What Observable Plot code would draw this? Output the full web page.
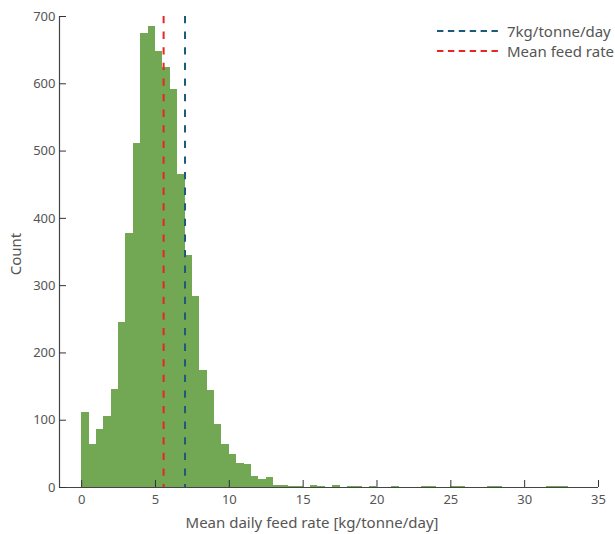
<!DOCTYPE html>
<html><head><meta charset="utf-8">
<script src="https://cdn.jsdelivr.net/npm/d3@7"></script>
<script src="https://cdn.jsdelivr.net/npm/@observablehq/plot@0.6"></script>
<style>
body{margin:0;background:#fff;}
#wrap{position:relative;width:615px;height:534px;font-family:"Noto Sans",sans-serif;color:#555;}
#legend{position:absolute;left:437px;top:21px;font-size:15px;line-height:20px;}
#legend .row{display:flex;align-items:center;height:20px;}
#legend svg{margin-right:9px;}
</style></head><body><div id="wrap"><div id="legend"></div></div>
<script>
// Histogram bins: width 0.5 kg/tonne/day, starting at 0
const binWidth = 0.5;
const binCounts = [
  111, 64, 86, 105, 146, 245, 377, 511, 675, 685,
  648, 624, 591, 465, 345, 284, 174, 144, 94, 64,
  49, 36, 34, 16, 12, 15, 3, 3, 1, 1,
  0, 3, 1, 0, 3, 0, 1, 1, 0, 1,
  0, 0, 1, 0, 0, 0, 1, 1, 0, 0,
  1, 1, 0, 0, 0, 1, 2, 0, 0, 0,
  0, 0, 0, 1, 2, 1
];
const threshold = 7;          // 7kg/tonne/day
const meanFeedRate = 5.55;    // Mean feed rate
const xTicks = [0, 5, 10, 15, 20, 25, 30, 35];
const yTicks = [0, 100, 200, 300, 400, 500, 600, 700];
const xDomain = [-1.5, 35];
const yDomain = [0, 700];
const legendLabels = ["7kg/tonne/day", "Mean feed rate"];
const legendColors = ["#1b5a7a", "#e8251f"];
const xLabel = "Mean daily feed rate [kg/tonne/day]";
const yLabel = "Count";

const bins = binCounts.map((c, i) => ({x1: i * binWidth, x2: (i + 1) * binWidth, count: c}));

const chart = Plot.plot({
  width: 615, height: 534,
  marginLeft: 59, marginRight: 17, marginTop: 16, marginBottom: 47,
  style: {fontFamily: '"Noto Sans", sans-serif', fontSize: "13px", color: "#555", background: "#fff"},
  x: {domain: xDomain},
  y: {domain: yDomain},
  marks: [
    Plot.rectY(bins, {x1: "x1", x2: "x2", y: "count", fill: "#72a853", shapeRendering: "crispEdges"}),
    Plot.ruleX([threshold], {y1: yDomain[1], y2: yDomain[0], stroke: legendColors[0], strokeWidth: 2, strokeDasharray: "7.3,8.3"}),
    Plot.ruleX([meanFeedRate], {y1: yDomain[1], y2: yDomain[0], stroke: legendColors[1], strokeWidth: 2, strokeDasharray: "7.3,8.3"}),
    Plot.ruleY([yDomain[0]], {stroke: "#444", strokeWidth: 1.2}),
    Plot.ruleX([xDomain[0]], {stroke: "#444", strokeWidth: 1.2}),
    Plot.axisX({ticks: xTicks, tickSize: -7, tickFormat: () => "", label: null, stroke: "#333"}),
    Plot.axisX({ticks: xTicks, tickSize: 0, tickPadding: 7, label: null, fill: "#555"}),
    Plot.axisY({ticks: yTicks, tickSize: -7, tickFormat: () => "", label: null, stroke: "#333"}),
    Plot.axisY({ticks: yTicks, tickSize: 0, tickPadding: 4, label: null, fill: "#555"}),
    Plot.text([xLabel], {frameAnchor: "bottom", dy: 40, dx: -17, fontSize: 15, fill: "#555"}),
    Plot.text([yLabel], {frameAnchor: "left", textAnchor: "middle", rotate: -90, dx: -43, dy: 2, fontSize: 15, fill: "#555"})
  ]
});
const wrap = document.getElementById("wrap");
wrap.insertBefore(chart, wrap.firstChild);

const legend = document.getElementById("legend");
legendLabels.forEach((lab, i) => {
  const row = document.createElement("div");
  row.className = "row";
  row.innerHTML = `<svg width="61" height="6"><line x1="0" x2="61" y1="3" y2="3" stroke="${legendColors[i]}" stroke-width="2.2" stroke-dasharray="6.4,4.5"/></svg><span>${lab}</span>`;
  legend.appendChild(row);
});
</script>
</body></html>
